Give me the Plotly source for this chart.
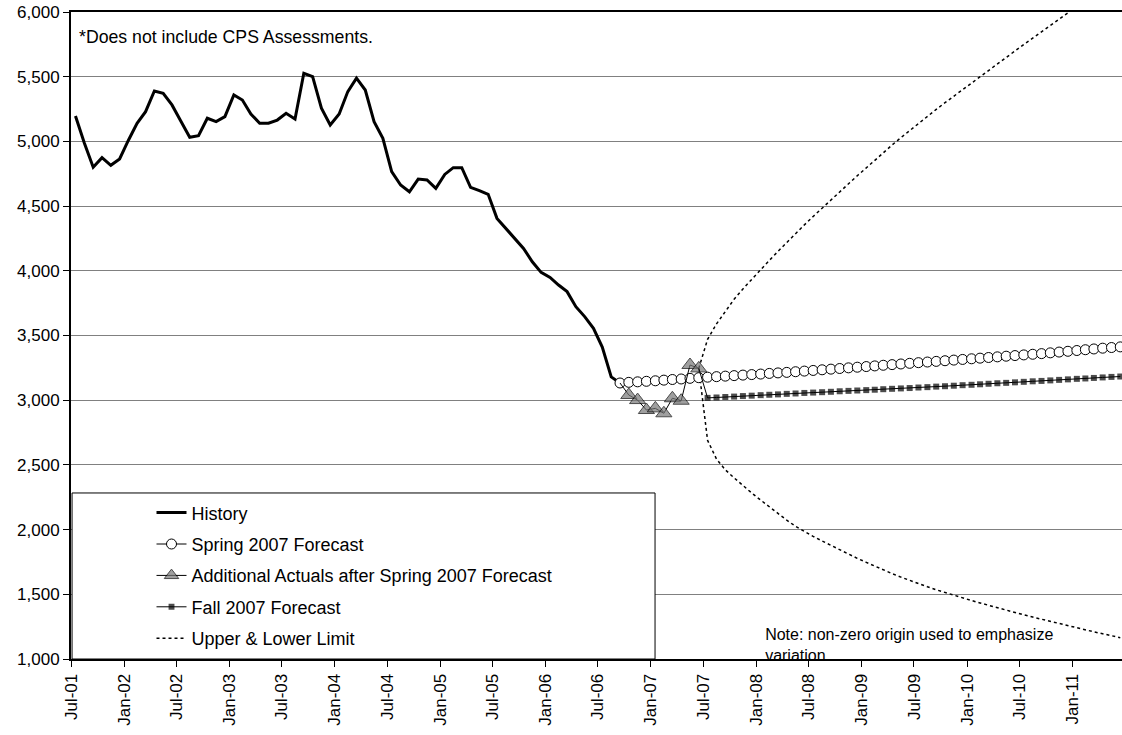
import pandas as pd
import plotly.graph_objects as go

# ---------------- data (monthly, index 0 = Jul-2001) ----------------
START = "2001-07-01"
N_MONTHS = 120

history_start = 0
history = [5196, 4985, 4800, 4874, 4815, 4864, 5011, 5140, 5230, 5390,
           5372, 5282, 5158, 5032, 5044, 5179, 5153, 5191, 5359, 5320,
           5212, 5140, 5140, 5165, 5217, 5173, 5526, 5500, 5256, 5127,
           5212, 5385, 5489, 5397, 5153, 5024, 4766, 4663, 4611, 4709,
           4702, 4637, 4745, 4797, 4797, 4645, 4619, 4591, 4405, 4328,
           4246, 4173, 4070, 3988, 3949, 3890, 3839, 3723, 3646, 3556,
           3410, 3180, 3133]

spring_start = 62
spring = [3133, 3138, 3142, 3146, 3150, 3155, 3160, 3164, 3169, 3174,
          3178, 3182, 3186, 3190, 3194, 3198, 3202, 3207, 3211, 3215,
          3220, 3225, 3230, 3235, 3240, 3245, 3250, 3255, 3260, 3265,
          3270, 3275, 3280, 3285, 3290, 3295, 3300, 3305, 3310, 3315,
          3320, 3325, 3330, 3335, 3340, 3345, 3350, 3355, 3360, 3366,
          3372, 3378, 3384, 3390, 3396, 3402, 3407, 3412]

actuals_start = 62
actuals = [3133, 3040, 3001, 2924, 2937, 2899, 3015, 2996, 3272, 3246]

fall_start = 71
fall = [3246, 3018, 3021, 3025, 3028, 3032, 3035, 3039, 3042, 3045,
        3049, 3052, 3056, 3059, 3062, 3065, 3069, 3072, 3075, 3078,
        3081, 3085, 3088, 3091, 3094, 3098, 3101, 3105, 3108, 3112,
        3116, 3119, 3123, 3127, 3131, 3134, 3138, 3142, 3146, 3149,
        3153, 3157, 3161, 3165, 3168, 3172, 3176, 3180, 3183]

limit_start = 71
upper = [3246, 3470, 3590, 3690, 3780, 3860, 3935, 4010, 4080, 4150,
         4220, 4290, 4355, 4420, 4485, 4550, 4612, 4674, 4735, 4795,
         4855, 4914, 4972, 5029, 5085, 5140, 5194, 5247, 5299, 5350,
         5401, 5451, 5501, 5551, 5601, 5651, 5700, 5749, 5798, 5847,
         5896, 5945, 5994, 6043, 6092, 6140, 6188, 6236, 6284]
lower = [3246, 2690, 2545, 2462, 2400, 2340, 2283, 2228, 2175, 2123,
         2073, 2025, 1985, 1948, 1912, 1877, 1843, 1810, 1778, 1747,
         1717, 1688, 1660, 1633, 1607, 1582, 1558, 1535, 1513, 1492,
         1472, 1452, 1433, 1414, 1395, 1377, 1359, 1341, 1324, 1307,
         1290, 1273, 1257, 1241, 1225, 1210, 1195, 1180, 1165]

series_names = ["History", "Spring 2007 Forecast",
                "Additional Actuals after Spring 2007 Forecast",
                "Fall 2007 Forecast", "Upper & Lower Limit"]
y_range = [1000, 6000]
note_text = "Note: non-zero origin used to emphasize<br>variation"
cps_text = "*Does not include CPS Assessments."

# ---------------- helpers ----------------
month_starts = pd.date_range(START, periods=N_MONTHS + 1, freq="MS")
month_mids = month_starts[:-1] + (month_starts[1:] - month_starts[:-1]) / 2


def xs(start, values):
    return list(month_mids[start:start + len(values)])


FONT = "Liberation Sans, Arial, sans-serif"
fig = go.Figure()

fig.add_trace(go.Scatter(
    x=xs(limit_start, upper), y=upper, mode="lines", name=series_names[4],
    line=dict(color="black", width=1.5, dash="dot"),
    legendgroup="g5", legendrank=5))
fig.add_trace(go.Scatter(
    x=xs(limit_start, lower), y=lower, mode="lines", name=series_names[4],
    line=dict(color="black", width=1.5, dash="dot"),
    legendgroup="g5", showlegend=False))

fig.add_trace(go.Scatter(
    x=xs(history_start, history), y=history, mode="lines", name=series_names[0],
    line=dict(color="black", width=3), legendgroup="g1", legendrank=1))

fig.add_trace(go.Scatter(
    x=xs(spring_start, spring), y=spring, mode="lines+markers", name=series_names[1],
    line=dict(color="black", width=1),
    marker=dict(symbol="circle", size=10, color="white",
                line=dict(color="black", width=1)),
    legendgroup="g2", legendrank=2))

fig.add_trace(go.Scatter(
    x=xs(actuals_start, actuals), y=actuals, mode="lines+markers", name=series_names[2],
    line=dict(color="black", width=1),
    marker=dict(symbol="triangle-up", size=[0] + [14] * (len(actuals) - 1),
                color="#777777", line=dict(color="black", width=1)),
    legendgroup="g3", legendrank=3))

fig.add_trace(go.Scatter(
    x=xs(fall_start, fall), y=fall, mode="lines+markers", name=series_names[3],
    line=dict(color="black", width=1),
    marker=dict(symbol="square", size=[0] + [6] * (len(fall) - 1), color="black",
                line=dict(width=0)),
    legendgroup="g4", legendrank=4))

# note text, clipped by the plot area like the original text box
fig.add_trace(go.Scatter(
    x=[month_starts[79]], y=[1236], mode="text", text=[note_text],
    textposition="bottom right", textfont=dict(family=FONT, size=16, color="black"),
    cliponaxis=True, showlegend=False, hoverinfo="skip"))

fig.update_layout(
    width=1122, height=735,
    margin=dict(l=71, r=0, t=12, b=76, autoexpand=False),
    paper_bgcolor="white", plot_bgcolor="white",
    font=dict(family=FONT, size=17, color="black"),
    showlegend=True,
    legend=dict(x=0.0766, y=0.004, xanchor="left", yanchor="bottom",
                bgcolor="rgba(0,0,0,0)", borderwidth=0,
                font=dict(family=FONT, size=18, color="black"),
                tracegroupgap=5, traceorder="grouped"),
    xaxis=dict(
        type="date", automargin=False,
        range=["2001-07-01", "2011-06-22"],
        tick0="2001-07-01", dtick="M6", tickformat="%b-%y",
        tickangle=-90, ticks="outside", ticklen=6, tickcolor="black",
        showline=True, linecolor="black", linewidth=2, mirror=True,
        showgrid=False, zeroline=False,
        tickfont=dict(family=FONT, size=17, color="black")),
    yaxis=dict(
        range=y_range, dtick=500, tickformat=",", automargin=False,
        ticks="outside", ticklen=6, tickcolor="black",
        showline=True, linecolor="black", linewidth=2,
        showgrid=True, gridcolor="#808080", gridwidth=1, zeroline=False,
        tickfont=dict(family=FONT, size=17, color="black")),
    shapes=[dict(type="rect", xref="paper", yref="paper",
                 x0=0.001, x1=0.5557, y0=0.0, y1=0.2566,
                 fillcolor="white", line=dict(color="black", width=1),
                 layer="above")],
    annotations=[dict(text=cps_text, xref="paper", yref="paper",
                      x=0.006, y=0.962, xanchor="left", yanchor="middle",
                      showarrow=False,
                      font=dict(family=FONT, size=17.7, color="black"))],
)

fig.write_html(
    "out.html",
    config={"displayModeBar": False},
    post_script="document.body.style.margin='0';document.body.style.overflow='hidden';",
)
